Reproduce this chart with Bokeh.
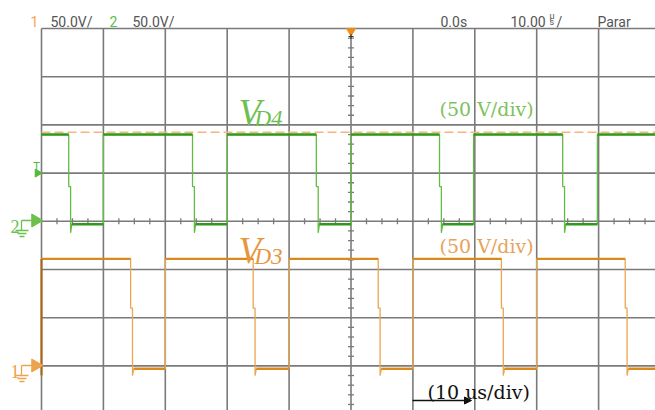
import numpy as np
from bokeh.plotting import figure
from bokeh.models import Range1d, Label, Arrow, NormalHead
from bokeh.embed import file_html
from bokeh.resources import INLINE

time_per_div_us = 10.0      # 10 us/div
volt_per_div_v = 50.0       # 50 V/div, both channels
grid_x_us = [-50, -40, -30, -20, -10, 0, 10, 20, 30, 40, 50]
grid_y_div = [0, 1, 2, 3, 4, 5, 6, 7, 8]

ch1_ground_div = 1.0        # orange trace, V_D3
ch2_ground_div = 4.0        # green trace, V_D4
trigger_level_div = 5.85    # dashed orange level line
trigger_pos_us = 0.0

# channel 2 (green, V_D4)
ch2_rise_us = [-40.0, -20.0, 0.0, 19.8, 39.8]
ch2_fall_us = [-45.6, -25.6, -5.6, 14.3, 34.2]
ch2_high_v = 90.0
ch2_mid_v = 36.0
ch2_low_v = -3.0
ch2_undershoot_v = -12.0

# channel 1 (orange, V_D3)
ch1_rise_us = [-30.0, -10.0, 10.0, 30.0]
ch1_fall_us = [-35.6, -15.8, 4.4, 24.3, 44.3]
ch1_high_v = 111.0
ch1_mid_v = 60.0
ch1_low_v = -3.0
ch1_undershoot_v = -10.0

header_texts = ["50.0V/", "50.0V/", "0.0s", "10.00", "Parar"]

# ---------------- layout helpers (pixel -> data) ----------------
PX_PER_US = 6.19
PX_PER_DIV = 48.2
def px2x(px):
    return -50 + (px - 41) / PX_PER_US
def py2y(py):
    return 8 - (py - 28) / PX_PER_DIV

def v2div(v, ground):
    return ground + v / volt_per_div_v

def build_trace(rises, falls, high, mid, low, under, ground, t_start, t_end, lead_from_low=False):
    events = sorted([(t, 'r') for t in rises] + [(t, 'f') for t in falls])
    xs, ys = [], []
    segs = []
    if lead_from_low:
        xs += [t_start]; ys += [under]
    level = high
    xs.append(t_start); ys.append(level)
    seg_start = t_start
    for t, kind in events:
        if kind == 'f':
            segs.append((seg_start, t, high))
            xs += [t, t, t + 0.3, t + 0.3, t + 0.5]
            ys += [high, mid, mid, under, low]
            seg_start = t + 0.5
            level = low
        else:
            segs.append((seg_start, t, low))
            xs += [t, t]
            ys += [low, high]
            seg_start = t
            level = high
    segs.append((seg_start, t_end, level))
    xs.append(t_end); ys.append(level)
    ys = [v2div(v, ground) for v in ys]
    sx0 = [s[0] for s in segs]
    sx1 = [s[1] for s in segs]
    sy = [v2div(s[2], ground) for s in segs]
    return xs, ys, sx0, sx1, sy

p = figure(width=655, height=410,
           x_range=Range1d(px2x(0), px2x(655)),
           y_range=Range1d(py2y(410), py2y(0)),
           output_backend="svg", toolbar_location=None, tools="",
           x_axis_location=None, y_axis_location=None,
           min_border=0, outline_line_color=None,
           background_fill_color="white", border_fill_color="white")
p.grid.visible = False

GRID = "#7a7a7a"
# graticule
p.segment(x0=grid_x_us, y0=[grid_y_div[0]] * len(grid_x_us),
          x1=grid_x_us, y1=[grid_y_div[-1]] * len(grid_x_us),
          line_color=GRID, line_width=1.6)
p.segment(x0=[grid_x_us[0]] * len(grid_y_div), y0=grid_y_div,
          x1=[grid_x_us[-1]] * len(grid_y_div), y1=grid_y_div,
          line_color=GRID, line_width=1.6)

# minor ticks on centre lines
tx = [grid_x_us[0] + 2.5 * k for k in range(41) if k % 4 != 0]
p.dash(x=tx, y=[4.0] * len(tx), size=6, angle=np.pi / 2, line_color=GRID, line_width=1.3)
ty = [0.2 * k for k in range(41) if k % 5 != 0]
p.dash(x=[0.0] * len(ty), y=ty, size=6, line_color=GRID, line_width=1.3)

t_end = px2x(655) + 1

# channel 2 (green)
xs, ys, sx0, sx1, sy = build_trace(ch2_rise_us, ch2_fall_us, ch2_high_v, ch2_mid_v,
                                   ch2_low_v, ch2_undershoot_v, ch2_ground_div, -50, t_end)
p.line(xs, ys, line_color="#62bb42", line_width=1.3)
p.segment(x0=sx0, y0=sy, x1=sx1, y1=sy, line_color="#2f9a1a", line_width=2.4)

# channel 1 (orange)
xs, ys, sx0, sx1, sy = build_trace(ch1_rise_us, ch1_fall_us, ch1_high_v, ch1_mid_v,
                                   ch1_low_v, ch1_undershoot_v, ch1_ground_div, -50, t_end,
                                   lead_from_low=True)
p.line(xs, ys, line_color="#eaa650", line_width=1.3)
p.segment(x0=sx0, y0=sy, x1=sx1, y1=sy, line_color="#d98a1c", line_width=2.4)
p.segment(x0=[-50], y0=[v2div(ch1_undershoot_v, ch1_ground_div)], x1=[-50],
          y1=[v2div(ch1_high_v, ch1_ground_div)], line_color="#a8661a", line_width=2)

# trigger level dashed line (drawn over the traces)
p.line([grid_x_us[0], grid_x_us[-1]], [trigger_level_div, trigger_level_div],
       line_color="#f6b57a", line_width=1.5, line_dash="9 4")

# ---- left side markers ----
def ground_marker(gy_px, color, label):
    p.multi_line(xs=[[px2x(21), px2x(31)], [px2x(21), px2x(21)],
                     [px2x(15), px2x(28)], [px2x(17), px2x(26)], [px2x(19), px2x(24)]],
                 ys=[[py2y(gy_px), py2y(gy_px)], [py2y(gy_px), py2y(gy_px + 10)],
                     [py2y(gy_px + 10)] * 2, [py2y(gy_px + 13)] * 2, [py2y(gy_px + 16)] * 2],
                 line_color=color, line_width=1.3)
    p.scatter(x=[px2x(35)], y=[py2y(gy_px)], marker="triangle", angle=-np.pi / 2,
              size=13, fill_color=color, line_color=color)
    p.add_layout(Label(x=px2x(10), y=py2y(gy_px + 6), text=label, text_color=color,
                       text_font="Liberation Serif", text_font_size="18px",
                       text_baseline="alphabetic"))

ground_marker(220, "#6cc04c", "2")
ground_marker(365, "#eda24c", "1")

# trigger level arrow "T" (ch2)
p.scatter(x=[px2x(37)], y=[5.0], marker="triangle", angle=-np.pi / 2, size=8,
          fill_color="#55b83a", line_color="#55b83a")
p.add_layout(Label(x=px2x(33), y=py2y(166), text="T", text_color="#55b83a",
                   text_font="DejaVu Sans", text_font_size="10px", text_baseline="alphabetic"))

# trigger position marker at top
p.scatter(x=[trigger_pos_us], y=[py2y(30.5)], marker="inverted_triangle", size=9,
          fill_color="#f08c1a", line_color="#f08c1a")
p.scatter(x=[trigger_pos_us], y=[py2y(36)], marker="cross", size=5, line_color="#333333")

# ---- header ----
HDR = "#555555"
def hlabel(x_px, text, color=HDR, size="14px", base=21):
    p.add_layout(Label(x=px2x(x_px), y=py2y(base), text=text, text_color=color,
                       text_font="Roboto", text_font_size=size, text_baseline="alphabetic"))
hlabel(30, "1", "#f5a54a")
hlabel(50, header_texts[0])
hlabel(109, "2", "#5cc048")
hlabel(132, header_texts[1])
hlabel(440, header_texts[2])
hlabel(510, header_texts[3])
hlabel(549, "\u00b5", size="9px", base=15)
hlabel(549, "s", size="9px", base=21)
hlabel(556, "/")
hlabel(597, header_texts[4])

# ---- annotations ----
def vlabel(x_px, base_px, sub, color):
    p.add_layout(Label(x=px2x(x_px), y=py2y(base_px), text="V", text_color=color,
                       text_font="Liberation Serif", text_font_style="italic",
                       text_font_size="37px", text_baseline="alphabetic"))
    p.add_layout(Label(x=px2x(x_px + 16), y=py2y(base_px + 6), text=sub, text_color=color,
                       text_font="Liberation Serif", text_font_style="italic",
                       text_font_size="23px", text_baseline="alphabetic"))

vlabel(238, 112, "D4", "#6ebe50")
vlabel(238, 250, "D3", "#e69640")

def slabel(x_px, base_px, text, color):
    p.add_layout(Label(x=px2x(x_px), y=py2y(base_px), text=text, text_color=color,
                       text_font="DejaVu Serif", text_font_size="19px",
                       text_baseline="alphabetic"))

slabel(439, 108, "(50 V/div)", "#7dc25c")
slabel(439, 245, "(50 V/div)", "#e8a35a")
slabel(427, 391, "(10 us/div)", "#111111")

p.add_layout(Arrow(end=NormalHead(size=7, fill_color="#111111", line_color="#111111"),
                   x_start=px2x(412), y_start=py2y(400),
                   x_end=px2x(471), y_end=py2y(400),
                   line_color="#111111", line_width=1.5))

open("out.html", "w").write(file_html(p, INLINE))
